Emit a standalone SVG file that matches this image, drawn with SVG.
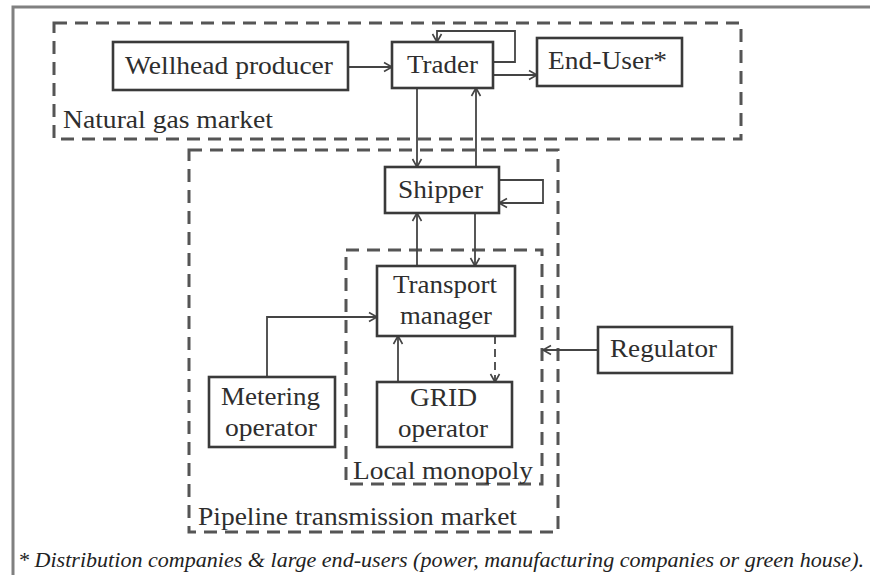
<svg xmlns="http://www.w3.org/2000/svg" width="870" height="575" viewBox="0 0 870 575">
<defs>
<marker id="arr" markerUnits="userSpaceOnUse" markerWidth="12" markerHeight="12" refX="10" refY="6" orient="auto">
<path d="M2,1.5 L10,6 L2,10.5" fill="none" stroke="#444" stroke-width="1.6"/>
</marker>
</defs>
<style>
.node{fill:#fff;stroke:#3a3a3a;stroke-width:2.6}
.grp{fill:none;stroke:#555;stroke-width:3;stroke-dasharray:13 8}
text{font-family:'Liberation Serif','Times New Roman',serif}
.t{font-size:25px;fill:#2e2e2e;text-anchor:middle}
.tl{font-size:25px;fill:#2e2e2e}
.c{fill:none;stroke:#444;stroke-width:1.8}
.foot{font-size:21px;font-style:italic;fill:#222}
</style>
<rect width="870" height="575" fill="#fff"/>
<path d="M13,575 V7 H870" fill="none" stroke="#808080" stroke-width="3"/>

<g id="natural-gas-market">
<rect class="grp" x="54" y="23" width="687" height="116"/>
<text class="tl" x="63" y="128" textLength="210" lengthAdjust="spacingAndGlyphs">Natural gas market</text>
</g>
<g id="pipeline-transmission-market">
<rect class="grp" x="189" y="150" width="369" height="382"/>
<text class="tl" x="198" y="525" textLength="319" lengthAdjust="spacingAndGlyphs">Pipeline transmission market</text>
</g>
<g id="local-monopoly">
<rect class="grp" x="346" y="250" width="196" height="234"/>
<text class="tl" x="353" y="479" textLength="180" lengthAdjust="spacingAndGlyphs">Local monopoly</text>
</g>

<g id="connectors">
<path class="c" d="M348,67 H392" stroke-width="2.4" marker-end="url(#arr)"/>
<path class="c" d="M493,62 H515 V31 H437 V42" stroke-width="2.2" marker-end="url(#arr)"/>
<path class="c" d="M493,75 H537" marker-end="url(#arr)"/>
<path class="c" d="M417,88 V167" marker-end="url(#arr)"/>
<path class="c" d="M476,167 V88" marker-end="url(#arr)"/>
<path class="c" d="M499,180 H543 V203 H499" marker-end="url(#arr)"/>
<path class="c" d="M417,266 V213" marker-end="url(#arr)"/>
<path class="c" d="M475,213 V266" marker-end="url(#arr)"/>
<path class="c" d="M267,377 V317 H377" marker-end="url(#arr)"/>
<path class="c" d="M398,382 V336" marker-end="url(#arr)"/>
<path class="c" d="M495,336 V382" stroke-dasharray="8 5" marker-end="url(#arr)"/>
<path class="c" d="M598,350 H543" stroke-width="1.5" marker-end="url(#arr)"/>
</g>

<g id="wellhead-producer">
<rect class="node" x="113" y="42" width="235" height="48"/>
<text class="t" x="229" y="74" textLength="208" lengthAdjust="spacingAndGlyphs">Wellhead producer</text>
</g>
<g id="trader">
<rect class="node" x="392" y="42" width="101" height="46"/>
<text class="t" x="442.5" y="73" textLength="71" lengthAdjust="spacingAndGlyphs">Trader</text>
</g>
<g id="end-user">
<rect class="node" x="537" y="38" width="145" height="48"/>
<text class="t" x="607.5" y="69" textLength="119" lengthAdjust="spacingAndGlyphs">End-User*</text>
</g>
<g id="shipper">
<rect class="node" x="385" y="167" width="114" height="46"/>
<text class="t" x="440.5" y="198" textLength="85" lengthAdjust="spacingAndGlyphs">Shipper</text>
</g>
<g id="transport-manager">
<rect class="node" x="377" y="266" width="138" height="70"/>
<text class="t" x="445" y="293" textLength="104" lengthAdjust="spacingAndGlyphs">Transport</text>
<text class="t" x="446" y="324" textLength="92" lengthAdjust="spacingAndGlyphs">manager</text>
</g>
<g id="metering-operator">
<rect class="node" x="209" y="377" width="126" height="70"/>
<text class="t" x="270.5" y="405" textLength="99" lengthAdjust="spacingAndGlyphs">Metering</text>
<text class="t" x="271" y="436" textLength="92" lengthAdjust="spacingAndGlyphs">operator</text>
</g>
<g id="grid-operator">
<rect class="node" x="377" y="382" width="135" height="65"/>
<text class="t" x="443.5" y="406" textLength="67" lengthAdjust="spacingAndGlyphs">GRID</text>
<text class="t" x="443" y="437" textLength="90" lengthAdjust="spacingAndGlyphs">operator</text>
</g>
<g id="regulator">
<rect class="node" x="598" y="327" width="134" height="46"/>
<text class="t" x="663.5" y="357" textLength="107" lengthAdjust="spacingAndGlyphs">Regulator</text>
</g>

<text class="foot" x="18" y="567" textLength="846" lengthAdjust="spacingAndGlyphs">* Distribution companies &amp; large end-users (power, manufacturing companies or green house).</text>
</svg>
